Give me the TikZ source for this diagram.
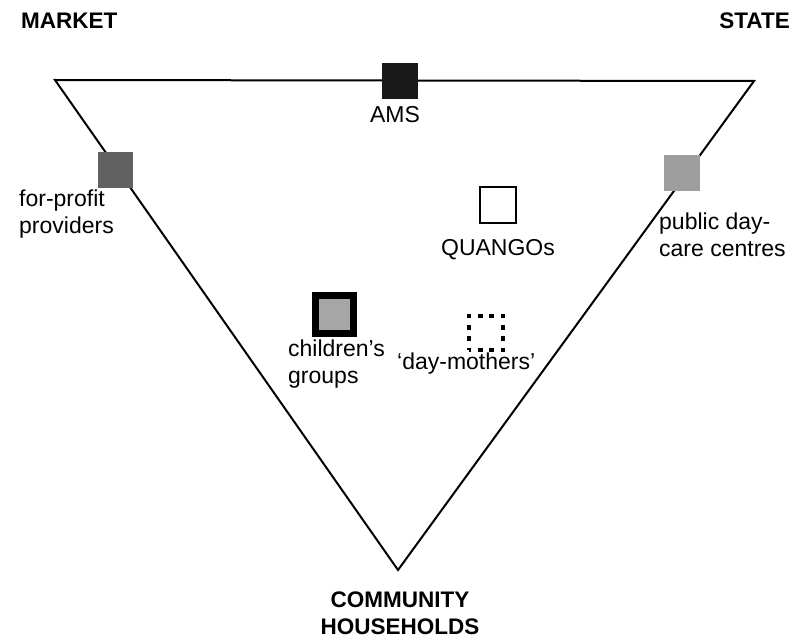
\documentclass[tikz,border=0pt]{standalone}
\usepackage{fontspec}
\setmainfont{Liberation Sans}
\usetikzlibrary{positioning}

\begin{document}
\begin{tikzpicture}[
        x=1pt, y=-1pt,
        lbl/.style={inner sep=0pt, font=\fontsize{23}{26.5}\selectfont, align=left},
        pole/.style={inner sep=0pt, font=\fontsize{22.5}{27}\selectfont\bfseries, align=center},
        sq/.style={rectangle, minimum size=36pt, inner sep=0pt},
        edge/.style={line width=2pt, line join=miter}
    ]
    \useasboundingbox (0,0) rectangle (794,639);

    % Corners of the triangle
    \coordinate (market) at (55,80);
    \coordinate (state) at (754,81);
    \coordinate (community) at (398,570);
    \draw[edge] (market) -- (state) -- (community) -- cycle;

    % Poles
    \node[pole, anchor=base west] (marketlbl) at (21,29) {MARKET};
    \node[pole, anchor=base east] (statelbl) at (790,29) {STATE};
    \node[pole, anchor=base] (commlbl) at (400,634) {COMMUNITY\\HOUSEHOLDS};

    % Providers
    \node[sq, fill=black!90] (ams) at (400,81) {};
    \node[sq, fill=black!62, minimum size=35pt] (forprofit) at (115,170) {};
    \node[sq, fill=black!38] (public) at (682,173) {};
    \node[sq, draw, line width=1.4pt, fill=white] (quango) at (498,205) {};
    \node[sq, draw, line width=7pt, fill=black!35, minimum size=38pt] (children) at (334,314) {};
    \node[sq, draw, line width=4.5pt, minimum size=34pt, dash pattern=on 4.5pt off 6.83pt, dash phase=2.25pt] (daymothers) at (486,333) {};

    % Labels
    \node[lbl, anchor=base] (amslbl) at (395,123) {AMS};
    \node[lbl, anchor=base west] (forprofitlbl) at (19,233) {for-profit\\providers};
    \node[lbl, anchor=base west] (publiclbl) at (659,256) {public day-\\care centres};
    \node[lbl, anchor=base] (quangolbl) at (498,255) {QUANGOs};
    \node[lbl, anchor=base west] (childrenlbl) at (288,383) {children's\\groups};
    \node[lbl, anchor=base west] (daymotherslbl) at (397,369) {`day-mothers'};

\end{tikzpicture}
\end{document}
